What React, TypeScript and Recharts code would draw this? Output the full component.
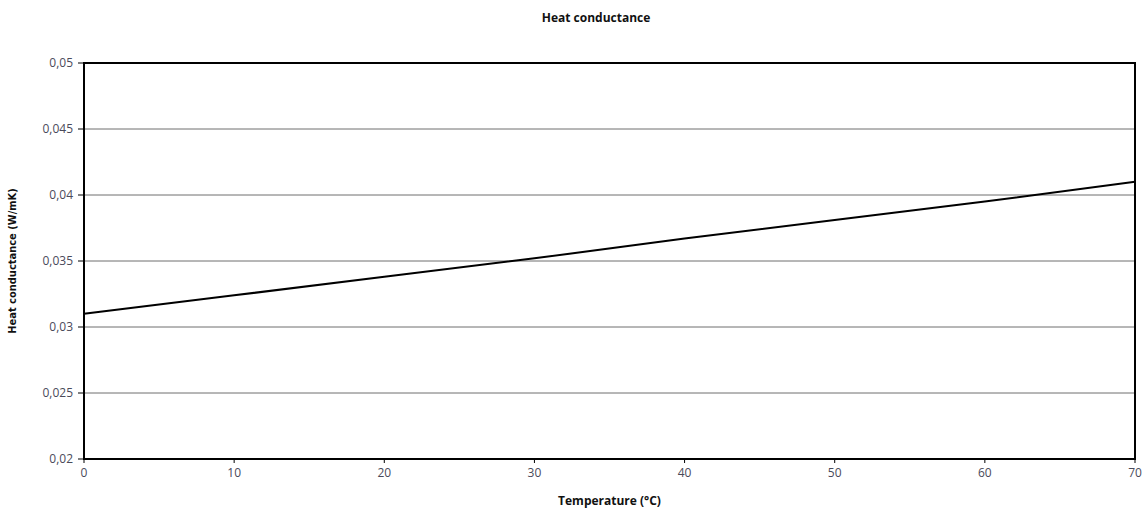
import { LineChart, Line, XAxis, YAxis, CartesianGrid, ReferenceArea, Label } from "recharts";

// Temperature (°C) and heat conductance (W/mK)
const temperatures = [0, 10, 20, 30, 40, 50, 60, 70];
const conductance = [0.031, 0.0324, 0.0338, 0.0352, 0.0367, 0.0381, 0.0395, 0.041];
const xTicks = [0, 10, 20, 30, 40, 50, 60, 70];
const yTicks = [0.02, 0.025, 0.03, 0.035, 0.04, 0.045, 0.05];

const data = temperatures.map((t, i) => ({ t, k: conductance[i] }));

const font = "'Open Sans', 'Liberation Sans', sans-serif";
const fmt = (v: number) => String(v).replace(".", ",");

export default function App() {
  return (
    <div style={{ position: "absolute", left: 0, top: 0, width: 1146, height: 511, background: "#fff", fontFamily: font }}>
      <div
        style={{
          position: "absolute",
          top: 9,
          left: 0,
          width: 1192,
          textAlign: "center",
          fontSize: 12,
          fontWeight: 700,
          color: "#111",
        }}
      >
        Heat conductance
      </div>
      <LineChart width={1146} height={511} data={data} margin={{ top: 63, right: 11, left: 0, bottom: 0 }}>
        <CartesianGrid vertical={false} stroke="#6e6e6e" strokeWidth={1} />
        <XAxis
          dataKey="t"
          type="number"
          domain={[0, 70]}
          ticks={xTicks}
          height={52}
          tickSize={4}
          tickLine={{ stroke: "#000", strokeWidth: 1 }}
          axisLine={{ stroke: "#000", strokeWidth: 2 }}
          tick={{ fontSize: 12, fill: "#4a4a5a", fontFamily: font }}
          tickMargin={5}
        >
          <Label
            value="Temperature (°C)"
            position="insideBottom"
            offset={6}
            style={{ fontSize: 12, fontWeight: 700, fill: "#111", fontFamily: font }}
          />
        </XAxis>
        <YAxis
          type="number"
          domain={[0.02, 0.05]}
          ticks={yTicks}
          width={84}
          tickFormatter={fmt}
          tickSize={6}
          tickLine={{ stroke: "#000", strokeWidth: 1 }}
          axisLine={{ stroke: "#000", strokeWidth: 2 }}
          tick={{ fontSize: 12, fill: "#4a4a5a", fontFamily: font }}
          tickMargin={5}
        >
          <Label
            value="Heat conductance (W/mK)"
            angle={-90}
            position="insideLeft"
            offset={12}
            style={{ textAnchor: "middle", fontSize: 11, fontWeight: 700, fill: "#111", fontFamily: "'Liberation Sans Narrow', 'DejaVu Sans Condensed', sans-serif" }}
          />
        </YAxis>
        <ReferenceArea x1={0} x2={70} y1={0.02} y2={0.05} fill="none" stroke="#000" strokeWidth={2} ifOverflow="visible" />
        <Line
          type="linear"
          dataKey="k"
          stroke="#000"
          strokeWidth={2}
          dot={false}
          isAnimationActive={false}
        />
      </LineChart>
    </div>
  );
}
